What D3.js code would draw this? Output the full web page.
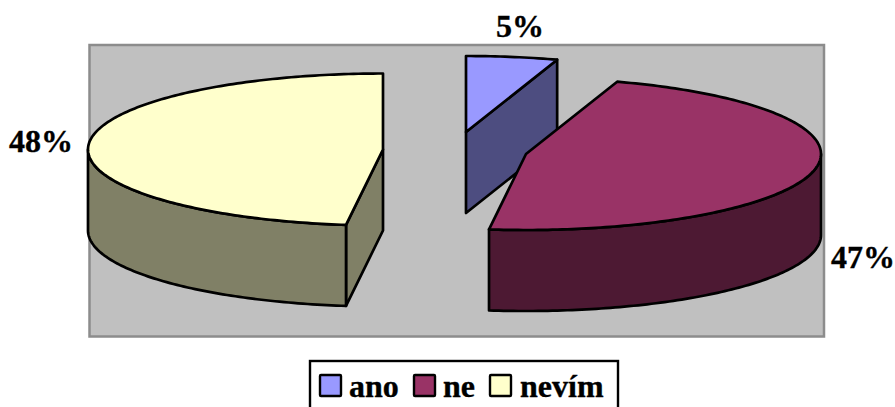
<!DOCTYPE html>
<html>
<head>
<meta charset="utf-8">
<script src="https://cdn.jsdelivr.net/npm/d3@7/dist/d3.min.js"></script>
<style>
  html, body { margin: 0; padding: 0; background: #fff; overflow: hidden; }
  svg { display: block; }
  text { font-family: "Liberation Serif", serif; font-weight: bold; font-size: 32px; fill: #000; stroke: #000; stroke-width: 0.35px; }
</style>
</head>
<body>
<svg id="chart" width="895" height="407"></svg>
<script>
// Survey answers, in percent
const categories = ["ano", "ne", "nevím"];
const values = [5, 47, 48];

// Face and wall colours per slice
const topColors = ["#9999ff", "#993366", "#ffffcc"];
const wallColors = ["#4d4d80", "#4d1933", "#808066"];

// Exploded centre of each slice and its label anchor
const centers = [[466, 132], [526, 154], [383, 149.5]];
const labelSpots = [[520, 37, "middle"], [831, 268, "start"], [73, 152, "end"]];
const legendSwatchX = [320, 414, 490];
const legendTextX = [349, 443, 520];

const RX = 295, RY = 76, DEPTH = 81;
const svg = d3.select("#chart");

// Plot area
svg.append("rect").attr("x", 89.5).attr("y", 45).attr("width", 734.5).attr("height", 291.5)
  .attr("fill", "#c0c0c0").attr("stroke", "#8c8c8c").attr("stroke-width", 2.5);

const arcs = d3.pie().sort(null).value(d => d)(values);
const line = d3.line();

// Tilted-disc projection: angle is clockwise from twelve o'clock
function project(center, angle, drop) {
  const x = d3.scaleLinear().domain([-1, 1]).range([center[0] - RX, center[0] + RX]);
  const y = d3.scaleLinear().domain([-1, 1]).range([center[1] - RY, center[1] + RY]);
  return [x(Math.sin(angle)), y(-Math.cos(angle)) + drop];
}
function rimPoints(center, a0, a1, drop) {
  const n = Math.max(2, Math.ceil(Math.abs(a1 - a0) * 60));
  return d3.range(n + 1).map(i => project(center, a0 + (a1 - a0) * i / n, drop));
}

function drawShape(g, pts, fill) {
  g.append("path").attr("d", line(pts) + "Z")
    .attr("fill", fill).attr("stroke", "#000").attr("stroke-width", 2.7)
    .attr("stroke-linejoin", "round");
}

// Blue slice sits behind, then nevím, with ne in front
[0, 2, 1].forEach(i => {
  const a = arcs[i], c = centers[i];
  const g = svg.append("g");
  const cutFace = ang => {
    const rim = project(c, ang, 0), rimLow = project(c, ang, DEPTH);
    drawShape(g, [c, rim, rimLow, [c[0], c[1] + DEPTH]], wallColors[i]);
  };
  if (Math.sin(a.startAngle) < -1e-6) cutFace(a.startAngle);
  if (Math.sin(a.endAngle) > 1e-6) cutFace(a.endAngle);

  // Outer wall is only seen on the near half of the disc
  const w0 = Math.max(a.startAngle, Math.PI / 2), w1 = Math.min(a.endAngle, 3 * Math.PI / 2);
  if (w1 > w0) {
    drawShape(g, rimPoints(c, w0, w1, 0).concat(rimPoints(c, w1, w0, DEPTH)), wallColors[i]);
  }
  drawShape(g, [c].concat(rimPoints(c, a.startAngle, a.endAngle, 0)), topColors[i]);
});

// Percentage labels
svg.selectAll("text.value").data(values).join("text").attr("class", "value")
  .attr("x", (d, i) => labelSpots[i][0]).attr("y", (d, i) => labelSpots[i][1])
  .attr("text-anchor", (d, i) => labelSpots[i][2]).text(d => d + "%");

// Legend; its frame runs off the bottom of the page
svg.append("rect").attr("x", 310).attr("y", 361).attr("width", 308).attr("height", 60)
  .attr("fill", "#fff").attr("stroke", "#000").attr("stroke-width", 2.4);
categories.forEach((name, i) => {
  svg.append("rect").attr("x", legendSwatchX[i]).attr("y", 375).attr("width", 21).attr("height", 21)
    .attr("fill", topColors[i]).attr("stroke", "#000").attr("stroke-width", 2.4).attr("rx", 1);
  svg.append("text").attr("x", legendTextX[i]).attr("y", 397).text(name);
});
</script>
</body>
</html>
